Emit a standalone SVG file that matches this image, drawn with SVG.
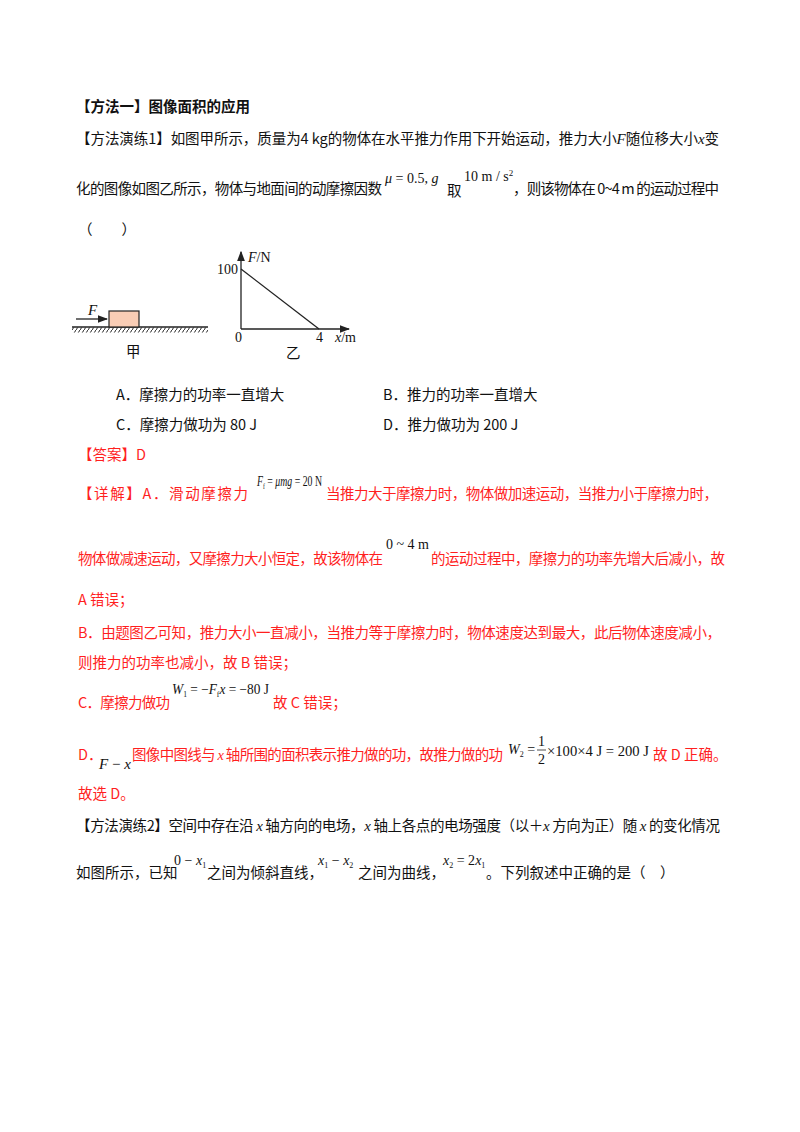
<svg xmlns="http://www.w3.org/2000/svg" width="800" height="1132" viewBox="0 0 800 1132">
<style>
text{font-family:"Noto Sans CJK SC","Noto Sans",sans-serif;font-size:14.5px;fill:#111}
.r{fill:#ff1f1f}
.m{font-family:"Liberation Serif",serif;font-size:14px}
.mi{font-family:"Liberation Serif",serif;font-size:15px;font-style:italic}
.b{font-weight:bold}
.ln{stroke:#222;stroke-width:1.3;fill:none}
</style>
<defs>
<marker id="ah" markerWidth="8" markerHeight="8" refX="7" refY="4" orient="auto"><path d="M0,1 L8,4 L0,7 Z" fill="#222"/></marker>
<pattern id="hatch" width="4" height="6" patternUnits="userSpaceOnUse"><path d="M4,0 L0,6" stroke="#222" stroke-width="1"/></pattern>
</defs>
<rect width="800" height="1132" fill="#fff"/>
<text x="76" y="112" class="b">【方法一】图像面积的应用</text>
<text x="76" y="144" textLength="643" lengthAdjust="spacing">【方法演练1】如图甲所示，质量为4 kg的物体在水平推力作用下开始运动，推力大小<tspan class="mi">F</tspan>随位移大小<tspan class="mi">x</tspan>变</text>
<text x="76" y="194" textLength="306" lengthAdjust="spacing">化的图像如图乙所示，物体与地面间的动摩擦因数</text>
<text x="385" y="183" class="m"><tspan font-style="italic">μ</tspan> = 0.5, <tspan font-style="italic">g</tspan></text>
<text x="447" y="196">取</text>
<text x="464" y="181" class="m">10 m / s<tspan font-size="9" dy="-5">2</tspan></text>
<text x="513" y="194" textLength="206" lengthAdjust="spacing">，则该物体在 0~4 m 的运动过程中</text>
<text x="78" y="235">（　　）</text>
<g id="fig-jia">
<line x1="72" y1="327" x2="208" y2="327" class="ln"/>
<rect x="72" y="327.5" width="136" height="5" fill="url(#hatch)"/>
<rect x="109" y="311" width="30" height="16" fill="#f9cdb5" stroke="#222" stroke-width="1.2"/>
<line x1="76" y1="319" x2="107" y2="319" class="ln" marker-end="url(#ah)"/>
<text x="88" y="315" class="mi">F</text>
<text x="126" y="357" font-size="13">甲</text>
</g>
<g id="fig-yi">
<line x1="241" y1="329" x2="241" y2="252" class="ln" marker-end="url(#ah)"/>
<line x1="241" y1="329" x2="349" y2="329" class="ln" marker-end="url(#ah)"/>
<line x1="241" y1="269" x2="319" y2="329" class="ln"/>
<text x="217" y="274" class="m">100</text>
<text x="248" y="262" class="m"><tspan font-style="italic">F</tspan>/N</text>
<text x="235" y="342" class="m">0</text>
<text x="316" y="342" class="m">4</text>
<text x="335" y="342" class="m"><tspan font-style="italic">x</tspan>/m</text>
<text x="286" y="358" font-size="13">乙</text>
</g>
<text x="116" y="400">A．摩擦力的功率一直增大</text>
<text x="383" y="400">B．推力的功率一直增大</text>
<text x="116" y="430">C．摩擦力做功为 80 J</text>
<text x="383" y="430">D．推力做功为 200 J</text>
<text x="78" y="460" class="r">【答案】D</text>
<text x="78" y="499" class="r" textLength="170" lengthAdjust="spacing">【详解】A．滑动摩擦力</text>
<text x="257" y="486" class="m" textLength="65" lengthAdjust="spacingAndGlyphs"><tspan font-style="italic">F</tspan><tspan font-size="8" dy="3">f</tspan><tspan dy="-3"> = <tspan font-style="italic">μmg</tspan> = 20 N</tspan></text>
<text x="326" y="499" class="r" textLength="392" lengthAdjust="spacing">当推力大于摩擦力时，物体做加速运动，当推力小于摩擦力时，</text>
<text x="78" y="564" class="r" textLength="305" lengthAdjust="spacing">物体做减速运动，又摩擦力大小恒定，故该物体在</text>
<text x="386" y="549" class="m">0 ~ 4 m</text>
<text x="431" y="564" class="r" textLength="294" lengthAdjust="spacing">的运动过程中，摩擦力的功率先增大后减小，故</text>
<text x="78" y="605" class="r">A 错误；</text>
<text x="78" y="638" class="r" textLength="643" lengthAdjust="spacing">B．由题图乙可知，推力大小一直减小，当推力等于摩擦力时，物体速度达到最大，此后物体速度减小，</text>
<text x="78" y="668" class="r">则推力的功率也减小，故 B 错误；</text>
<text x="78" y="708" class="r" textLength="92" lengthAdjust="spacing">C．摩擦力做功</text>
<text x="172" y="694" class="m" textLength="97" lengthAdjust="spacingAndGlyphs"><tspan font-style="italic">W</tspan><tspan font-size="8" dy="3">1</tspan><tspan dy="-3"> = −<tspan font-style="italic">F</tspan></tspan><tspan font-size="8" dy="3">f</tspan><tspan dy="-3" font-style="italic">x</tspan> = −80 J</text>
<text x="273" y="708" class="r">故 C 错误；</text>
<text x="78" y="760" class="r">D．</text>
<text x="99" y="769" class="mi" font-size="14">F <tspan font-style="normal">−</tspan> x</text>
<text x="132" y="760" class="r" textLength="371" lengthAdjust="spacing">图像中图线与 <tspan font-family="Liberation Serif" font-style="italic">x</tspan> 轴所围的面积表示推力做的功，故推力做的功</text>
<text x="508" y="754" class="m"><tspan font-style="italic">W</tspan><tspan font-size="8" dy="3">2</tspan><tspan dy="-3"> =</tspan></text>
<text x="538" y="746" class="m">1</text>
<line x1="537" y1="750" x2="546" y2="750" stroke="#222" stroke-width="0.8"/>
<text x="538" y="764" class="m">2</text>
<text x="547" y="756" class="m" textLength="102" lengthAdjust="spacingAndGlyphs">×100×4 J = 200 J</text>
<text x="653" y="760" class="r">故 D 正确。</text>
<text x="78" y="799" class="r">故选 D。</text>
<text x="76" y="831" textLength="644" lengthAdjust="spacing">【方法演练2】空间中存在沿 <tspan class="mi">x</tspan> 轴方向的电场，<tspan class="mi">x</tspan> 轴上各点的电场强度（以＋<tspan class="mi">x</tspan> 方向为正）随 <tspan class="mi">x</tspan> 的变化情况</text>
<text x="76" y="878">如图所示，已知</text>
<text x="174" y="865" class="m">0 − <tspan font-style="italic">x</tspan><tspan font-size="8" dy="3">1</tspan></text>
<text x="207" y="878">之间为倾斜直线，</text>
<text x="318" y="865" class="m"><tspan font-style="italic">x</tspan><tspan font-size="8" dy="3">1</tspan><tspan dy="-3"> − <tspan font-style="italic">x</tspan></tspan><tspan font-size="8" dy="3">2</tspan></text>
<text x="358" y="878">之间为曲线，</text>
<text x="443" y="865" class="m"><tspan font-style="italic">x</tspan><tspan font-size="8" dy="3">2</tspan><tspan dy="-3"> = 2<tspan font-style="italic">x</tspan></tspan><tspan font-size="8" dy="3">1</tspan></text>
<text x="486" y="878">。下列叙述中正确的是（　）</text>
</svg>
